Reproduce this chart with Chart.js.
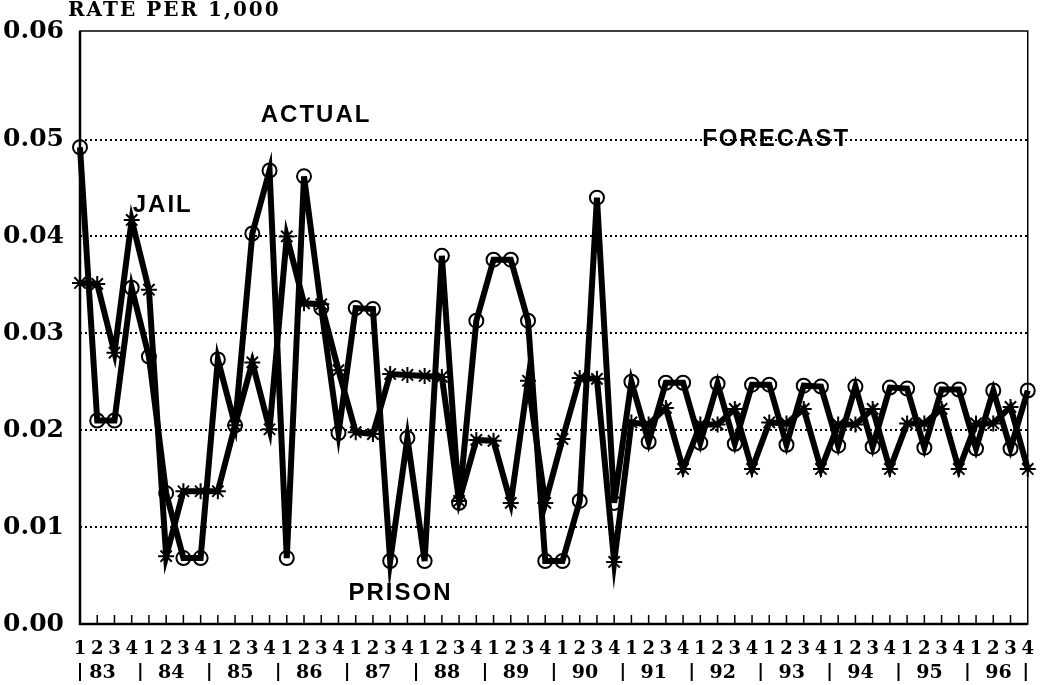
<!DOCTYPE html>
<html>
<head>
<meta charset="utf-8">
<script src="https://cdn.jsdelivr.net/npm/chart.js@4.4.1/dist/chart.umd.min.js"></script>
<style>
  html, body { margin: 0; padding: 0; background: #fff; }
  #wrap { width: 1041px; height: 685px; }
</style>
</head>
<body>
<div id="wrap"><canvas id="c"></canvas></div>
<script>
// --- Datos ------------------------------------------------------------------
const YEARS = ['83', '84', '85', '86', '87', '88', '89', '90', '91', '92', '93', '94', '95', '96'];
const QUARTERS = YEARS.flatMap(() => ['1', '2', '3', '4']);

// Cárcel (asteriscos)
const JAIL = [
  0.0352, 0.0351, 0.0280, 0.0417, 0.0345, 0.0070, 0.0137, 0.0137,
  0.0137, 0.0205, 0.0270, 0.0201, 0.0400, 0.0331, 0.0330, 0.0262,
  0.0198, 0.0196, 0.0258, 0.0257, 0.0256, 0.0255, 0.0127, 0.0190,
  0.0189, 0.0125, 0.0251, 0.0125, 0.0191, 0.0254, 0.0253, 0.0064,
  0.0208, 0.0206, 0.0223, 0.0160, 0.0206, 0.0206, 0.0222, 0.0160,
  0.0208, 0.0207, 0.0222, 0.0160, 0.0206, 0.0206, 0.0222, 0.0160,
  0.0207, 0.0207, 0.0222, 0.0160, 0.0207, 0.0207, 0.0224, 0.0160,
];

// Prisión (círculos)
const PRISON = [
  0.0492, 0.0210, 0.0210, 0.0347, 0.0276, 0.0135, 0.0068, 0.0068,
  0.0273, 0.0205, 0.0403, 0.0468, 0.0068, 0.0462, 0.0326, 0.0197,
  0.0326, 0.0325, 0.0065, 0.0192, 0.0065, 0.0380, 0.0125, 0.0313,
  0.0376, 0.0376, 0.0313, 0.0065, 0.0065, 0.0127, 0.0440, 0.0125,
  0.0250, 0.0188, 0.0249, 0.0249, 0.0187, 0.0248, 0.0186, 0.0247,
  0.0247, 0.0185, 0.0246, 0.0245, 0.0184, 0.0245, 0.0183, 0.0244,
  0.0243, 0.0182, 0.0242, 0.0242, 0.0181, 0.0241, 0.0181, 0.0241,
];

const Y_TICKS = [0, 0.01, 0.02, 0.03, 0.04, 0.05, 0.0612];
const Y_LABELS = ['0.00', '0.01', '0.02', '0.03', '0.04', '0.05', '0.06'];
const Y_TITLE = 'RATE PER 1,000';

// Rótulos dentro del gráfico: [texto, índice de trimestre, valor]
const NOTES = [
  ['ACTUAL', 13.7, 0.0525],
  ['FORECAST', 40.4, 0.0500],
  ['JAIL', 4.8, 0.0432],
  ['PRISON', 18.6, 0.0032],
];

const SERIF = '"DejaVu Serif", serif';
const SANS = '"Liberation Sans", Arial, sans-serif';

// --- Plugin: marco, marcas del eje x, años y rótulos --------------------------
const extras = {
  id: 'extras',
  afterDraw(chart) {
    const { ctx, chartArea: a, scales: { x, y } } = chart;
    ctx.save();
    ctx.strokeStyle = '#000';
    ctx.fillStyle = '#000';

    // marco
    ctx.lineWidth = 1.5;
    ctx.strokeRect(a.left, a.top, a.right - a.left, a.bottom - a.top);
    ctx.lineWidth = 2.5;
    ctx.beginPath();
    ctx.moveTo(a.left, a.top); ctx.lineTo(a.left, a.bottom); ctx.lineTo(a.right, a.bottom);
    ctx.stroke();

    // marcas hacia adentro en cada trimestre
    ctx.lineWidth = 1.5;
    ctx.beginPath();
    for (let i = 1; i < QUARTERS.length - 1; i++) {
      const px = x.getPixelForValue(i);
      ctx.moveTo(px, a.bottom); ctx.lineTo(px, a.bottom - 9);
    }
    ctx.stroke();

    // fila de años con separadores
    const yy = a.bottom + 48;
    ctx.font = `bold 19px ${SERIF}`;
    ctx.textAlign = 'center';
    ctx.textBaseline = 'middle';
    ctx.lineWidth = 2;
    ctx.beginPath();
    YEARS.forEach((yr, k) => {
      const sx = Math.max(a.left, x.getPixelForValue(4 * k - 0.5));
      ctx.moveTo(sx, yy - 9); ctx.lineTo(sx, yy + 9);
      ctx.fillText(yr, x.getPixelForValue(4 * k + 1.3), yy + 1);
    });
    ctx.moveTo(a.right - 2, yy - 9); ctx.lineTo(a.right - 2, yy + 9);
    ctx.stroke();

    // título del eje y
    ctx.font = `bold 20px ${SERIF}`;
    ctx.textAlign = 'left';
    ctx.letterSpacing = '2px';
    ctx.fillText(Y_TITLE, 68, 11);

    // rótulos
    ctx.font = `bold 24px ${SANS}`;
    ctx.textAlign = 'center';
    ctx.letterSpacing = '2px';
    NOTES.forEach(([t, i, v]) => ctx.fillText(t, x.getPixelForValue(i), y.getPixelForValue(v)));
    ctx.restore();
  },
};

new Chart(document.getElementById('c'), {
  type: 'line',
  data: {
    labels: QUARTERS,
    datasets: [
      {
        label: 'Prison', data: PRISON, borderColor: '#000', borderWidth: 6,
        pointStyle: 'circle', pointRadius: 7, pointBorderWidth: 2,
        pointBackgroundColor: 'rgba(0,0,0,0)', pointBorderColor: '#000', tension: 0,
      },
      {
        label: 'Jail', data: JAIL, borderColor: '#000', borderWidth: 6,
        pointStyle: 'star', pointRadius: 8, pointBorderWidth: 2,
        pointBackgroundColor: '#000', pointBorderColor: '#000', tension: 0,
      },
    ],
  },
  options: {
    responsive: true, maintainAspectRatio: false, animation: false,
    layout: { padding: { top: 30, right: 12, left: 0, bottom: 0 } },
    plugins: { legend: { display: false }, tooltip: { enabled: false } },
    scales: {
      x: {
        offset: false,
        grid: { display: false },
        border: { display: false },
        ticks: {
          color: '#000', autoSkip: false, maxRotation: 0, padding: 7,
          font: { family: SERIF, size: 18, weight: 'bold' },
        },
        afterFit: (s) => { s.height = 61; },
      },
      y: {
        min: 0, max: 0.0612,
        afterBuildTicks: (s) => { s.ticks = Y_TICKS.map((v) => ({ value: v })); },
        grid: {
          drawTicks: false, lineWidth: 2,
          color: (c) => (c.tick && c.tick.value > 0 && c.tick.value < 0.06 ? '#000' : 'rgba(0,0,0,0)'),
        },
        border: { display: false, dash: [2, 3] },
        ticks: {
          color: '#000', padding: 16,
          font: { family: SERIF, size: 25, weight: 'bold' },
          callback: (v, i) => Y_LABELS[i],
        },
        afterFit: (s) => { s.width = 80; },
      },
    },
  },
  plugins: [extras],
});
</script>
</body>
</html>
